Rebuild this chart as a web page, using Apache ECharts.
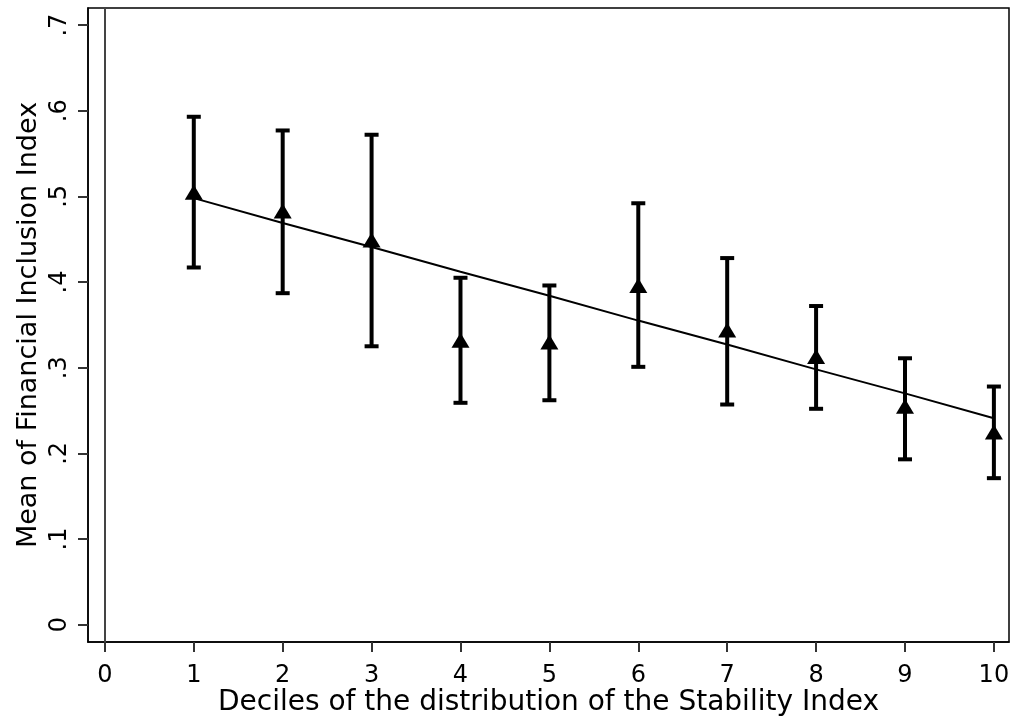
<!DOCTYPE html>
<html>
<head>
<meta charset="utf-8">
<script src="https://cdn.jsdelivr.net/npm/echarts@6/dist/echarts.min.js"></script>
<style>
  html, body { margin: 0; padding: 0; background: #fff; }
  #chart { width: 1010px; height: 717px; }
</style>
</head>
<body>
<div id="chart"></div>
<script>
// deciles of the stability index
const deciles = [1, 2, 3, 4, 5, 6, 7, 8, 9, 10];
// mean of financial inclusion index per decile
const means = [0.505, 0.483, 0.449, 0.332, 0.330, 0.396, 0.344, 0.313, 0.255, 0.225];
// confidence interval bounds
const ciLow = [0.417, 0.387, 0.325, 0.259, 0.262, 0.301, 0.257, 0.252, 0.193, 0.171];
const ciHigh = [0.593, 0.577, 0.572, 0.405, 0.396, 0.492, 0.428, 0.372, 0.311, 0.278];
// fitted line values read at each decile
const fitted = [0.498, 0.469, 0.441, 0.412, 0.384, 0.355, 0.327, 0.298, 0.270, 0.241];

const xTicks = [0, 1, 2, 3, 4, 5, 6, 7, 8, 9, 10];
const yTicks = [0, 0.1, 0.2, 0.3, 0.4, 0.5, 0.6, 0.7];

const font = 'DejaVu Sans, Liberation Sans, sans-serif';

const chart = echarts.init(document.getElementById('chart'));

// stata style: .1 .2 ... no leading zero
const fmtY = (v) => {
  if (Math.abs(v) < 1e-9) return '0';
  return '.' + Math.round(v * 10);
};

const option = {
  animation: false,
  backgroundColor: '#fff',
  grid: {
    left: 88, right: 1, top: 8, bottom: 75,
    outerBoundsMode: 'none',
    containLabel: false,
    show: true, borderColor: '#000', borderWidth: 1.5
  },
  xAxis: {
    type: 'value',
    min: -0.19, max: 10.17,
    name: 'Deciles of the distribution of the Stability Index',
    nameLocation: 'middle',
    nameGap: 47,
    nameMoveOverlap: false,
    nameTextStyle: { fontFamily: font, fontSize: 28, color: '#000' },
    splitLine: { show: false },
    axisLine: { show: true, onZero: false, lineStyle: { color: '#000', width: 1.5 } },
    axisTick: { show: true, length: 10, customValues: xTicks, lineStyle: { color: '#333', width: 2 } },
    axisLabel: { customValues: xTicks, margin: 22, fontFamily: font, fontSize: 24, color: '#000' }
  },
  yAxis: {
    type: 'value',
    min: -0.0203, max: 0.72,
    name: 'Mean of Financial Inclusion Index',
    nameLocation: 'middle',
    nameGap: 46,
    nameMoveOverlap: false,
    nameTextStyle: { fontFamily: font, fontSize: 27, color: '#000' },
    splitLine: { show: false },
    axisLine: { show: true, onZero: false, lineStyle: { color: '#000', width: 1.5 } },
    axisTick: { show: true, length: 10, customValues: yTicks, lineStyle: { color: '#333', width: 2 } },
    axisLabel: {
      customValues: yTicks, rotate: 90, margin: 16,
      fontFamily: font, fontSize: 24, color: '#000',
      formatter: fmtY
    }
  },
  series: [
    {
      type: 'line',
      data: deciles.map((d, i) => [d, fitted[i]]),
      symbol: 'none',
      lineStyle: { color: '#000', width: 2 },
      z: 2,
      markLine: {
        silent: true,
        symbol: 'none',
        label: { show: false },
        lineStyle: { color: '#444', width: 2, type: 'solid' },
        data: [{ xAxis: 0 }]
      }
    },
    {
      type: 'custom',
      data: deciles.map((d, i) => [d, ciLow[i], ciHigh[i]]),
      renderItem: (params, api) => {
        const lo = api.coord([api.value(0), api.value(1)]);
        const hi = api.coord([api.value(0), api.value(2)]);
        const w = 7;
        const style = { stroke: '#000', lineWidth: 4 };
        return {
          type: 'group',
          children: [
            { type: 'line', shape: { x1: lo[0], y1: lo[1], x2: hi[0], y2: hi[1] }, style },
            { type: 'line', shape: { x1: hi[0] - w, y1: hi[1], x2: hi[0] + w, y2: hi[1] }, style },
            { type: 'line', shape: { x1: lo[0] - w, y1: lo[1], x2: lo[0] + w, y2: lo[1] }, style }
          ]
        };
      },
      z: 3
    },
    {
      type: 'scatter',
      data: deciles.map((d, i) => [d, means[i]]),
      symbol: 'triangle',
      symbolSize: [18, 15],
      itemStyle: { color: '#000', opacity: 1 },
      z: 4
    }
  ]
};

chart.setOption(option);
</script>
</body>
</html>
